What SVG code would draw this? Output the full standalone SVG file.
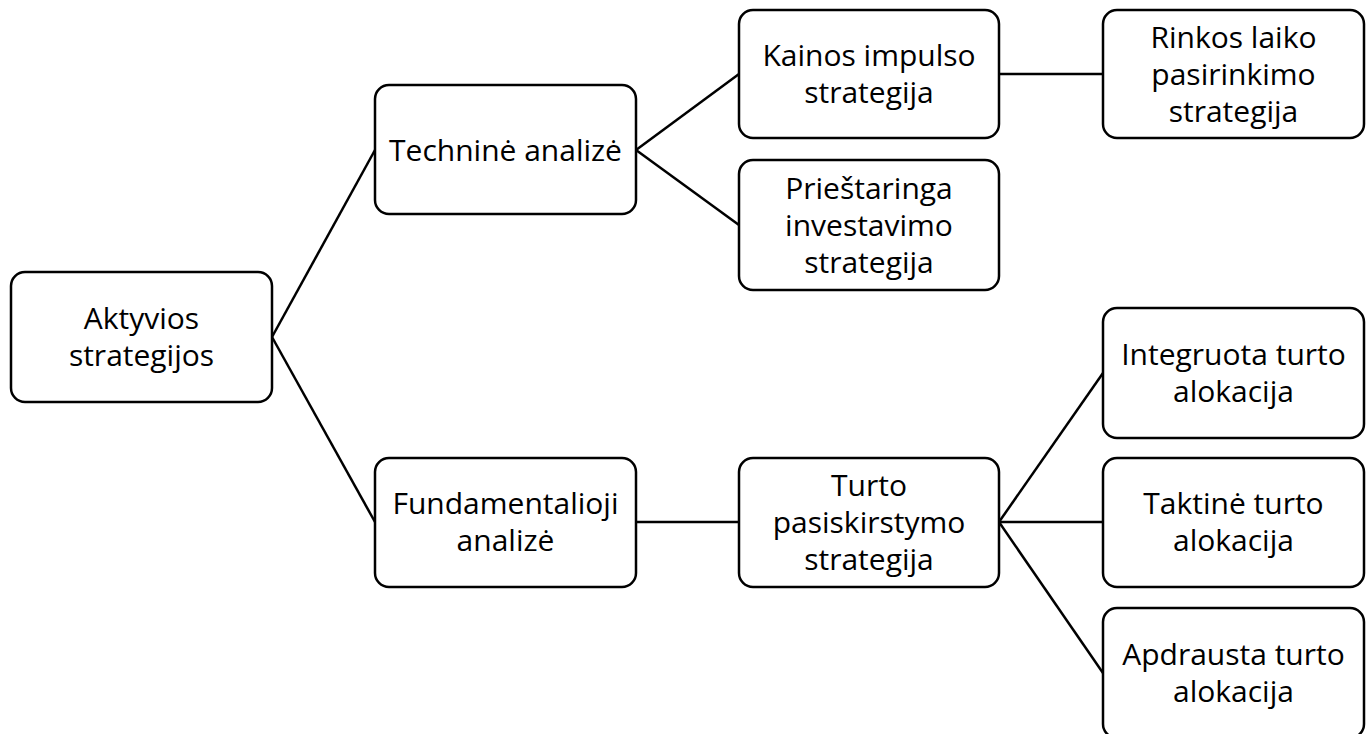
<svg xmlns="http://www.w3.org/2000/svg" width="1371" height="734" viewBox="0 0 1371 734">
<style>
.box{fill:#fff;stroke:#000;stroke-width:2.5}
.lbl{font-family:"Open Sans","Liberation Sans",sans-serif;font-size:30px;fill:#000;text-anchor:middle}
.edge{stroke:#000;stroke-width:2.5;fill:none}
</style>
<rect width="1371" height="734" fill="#fff"/>
<g id="connectors">
<line class="edge" x1="272" y1="337" x2="375" y2="150"/>
<line class="edge" x1="272" y1="337" x2="375" y2="522"/>
<line class="edge" x1="636" y1="150" x2="739" y2="74"/>
<line class="edge" x1="636" y1="150" x2="739" y2="225"/>
<line class="edge" x1="999" y1="74" x2="1103" y2="74"/>
<line class="edge" x1="636" y1="522" x2="739" y2="522"/>
<line class="edge" x1="999" y1="522" x2="1103" y2="373"/>
<line class="edge" x1="999" y1="522" x2="1103" y2="522"/>
<line class="edge" x1="999" y1="522" x2="1103" y2="673"/>
</g>
<g id="n-aktyvios">
<rect class="box" x="11" y="272" width="261" height="130" rx="14"/>
<text class="lbl" x="141.5" y="329">Aktyvios</text>
<text class="lbl" x="141.5" y="366">strategijos</text>
</g>
<g id="n-technine">
<rect class="box" x="375" y="85" width="261" height="129" rx="14"/>
<text class="lbl" x="505.5" y="161">Techninė analizė</text>
</g>
<g id="n-fundamentalioji">
<rect class="box" x="375" y="458" width="261" height="129" rx="14"/>
<text class="lbl" x="505.5" y="514">Fundamentalioji</text>
<text class="lbl" x="505.5" y="551">analizė</text>
</g>
<g id="n-kainos">
<rect class="box" x="739" y="10" width="260" height="128" rx="14"/>
<text class="lbl" x="869" y="66">Kainos impulso</text>
<text class="lbl" x="869" y="103">strategija</text>
</g>
<g id="n-priestaringa">
<rect class="box" x="739" y="160" width="260" height="130" rx="14"/>
<text class="lbl" x="869" y="199">Prieštaringa</text>
<text class="lbl" x="869" y="236">investavimo</text>
<text class="lbl" x="869" y="273">strategija</text>
</g>
<g id="n-rinkos">
<rect class="box" x="1103" y="10" width="261" height="128" rx="14"/>
<text class="lbl" x="1233.5" y="48">Rinkos laiko</text>
<text class="lbl" x="1233.5" y="85">pasirinkimo</text>
<text class="lbl" x="1233.5" y="122">strategija</text>
</g>
<g id="n-turto">
<rect class="box" x="739" y="458" width="260" height="129" rx="14"/>
<text class="lbl" x="869" y="496">Turto</text>
<text class="lbl" x="869" y="533">pasiskirstymo</text>
<text class="lbl" x="869" y="570">strategija</text>
</g>
<g id="n-integruota">
<rect class="box" x="1103" y="308" width="261" height="130" rx="14"/>
<text class="lbl" x="1233.5" y="365">Integruota turto</text>
<text class="lbl" x="1233.5" y="402">alokacija</text>
</g>
<g id="n-taktine">
<rect class="box" x="1103" y="458" width="261" height="129" rx="14"/>
<text class="lbl" x="1233.5" y="514">Taktinė turto</text>
<text class="lbl" x="1233.5" y="551">alokacija</text>
</g>
<g id="n-apdrausta">
<rect class="box" x="1103" y="608" width="261" height="130" rx="14"/>
<text class="lbl" x="1233.5" y="665">Apdrausta turto</text>
<text class="lbl" x="1233.5" y="702">alokacija</text>
</g>
</svg>
